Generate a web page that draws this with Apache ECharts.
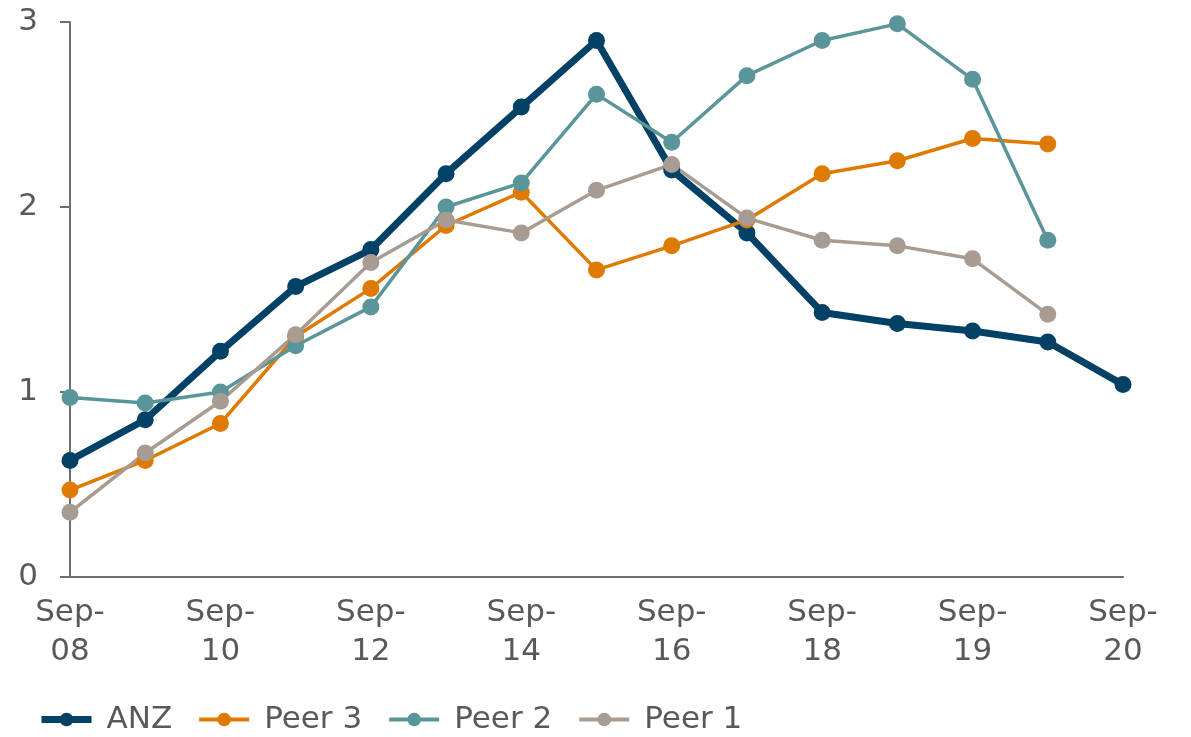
<!DOCTYPE html>
<html>
<head>
<meta charset="utf-8">
<script src="https://cdn.jsdelivr.net/npm/echarts@6/dist/echarts.min.js"></script>
<style>
  html, body { margin: 0; padding: 0; background: #fff; }
  #chart { width: 1191px; height: 737px; }
</style>
</head>
<body>
<div id="chart"></div>
<script>
var categories = ['Sep-08', 'Sep-09', 'Sep-10', 'Sep-11', 'Sep-12', 'Sep-13', 'Sep-14', 'Sep-15',
                  'Sep-16', 'Sep-17', 'Sep-18', 'Mar-19', 'Sep-19', 'Mar-20', 'Sep-20'];
var anz   = [0.63, 0.85, 1.22, 1.57, 1.77, 2.18, 2.54, 2.90, 2.20, 1.86, 1.43, 1.37, 1.33, 1.27, 1.04];
var peer3 = [0.47, 0.63, 0.83, 1.30, 1.56, 1.90, 2.08, 1.66, 1.79, 1.93, 2.18, 2.25, 2.37, 2.34, null];
var peer2 = [0.97, 0.94, 1.00, 1.25, 1.46, 2.00, 2.13, 2.61, 2.35, 2.71, 2.90, 2.99, 2.69, 1.82, null];
var peer1 = [0.35, 0.67, 0.95, 1.31, 1.70, 1.93, 1.86, 2.09, 2.23, 1.94, 1.82, 1.79, 1.72, 1.42, null];
var yTicks = [0, 1, 2, 3];

var textColor = '#595959';
var fontFamily = 'DejaVu Sans';

function lineSeries(name, data, color, width) {
    return {
        name: name,
        type: 'line',
        data: data,
        symbol: 'circle',
        symbolSize: 17,
        lineStyle: { color: color, width: width },
        itemStyle: { color: color },
        emphasis: { disabled: true }
    };
}

function legendItem(name, width) {
    return { name: name, lineStyle: { width: width } };
}

var myChart = echarts.init(document.getElementById('chart'));
var option = {
    animation: false,
    grid: { left: 70, right: 68, top: 22, bottom: 160, containLabel: false },
    legend: {
        left: 38,
        bottom: 2,
        padding: 0,
        itemWidth: 50,
        itemHeight: 17,
        itemGap: 25,
        textStyle: { color: textColor, fontSize: 31, fontFamily: fontFamily, padding: [0, 0, 0, 10] },
        data: [legendItem('ANZ', 7), legendItem('Peer 3', 4), legendItem('Peer 2', 4), legendItem('Peer 1', 4)]
    },
    xAxis: {
        type: 'category',
        data: categories,
        boundaryGap: false,
        axisLine: { lineStyle: { color: '#6e6e6e', width: 2 } },
        axisTick: { show: false },
        axisLabel: {
            interval: 1,
            color: textColor,
            fontSize: 31,
            fontFamily: fontFamily,
            lineHeight: 39,
            margin: 16,
            formatter: function (v) { return v.replace('-', '-\n'); }
        }
    },
    yAxis: {
        type: 'value',
        min: yTicks[0],
        max: yTicks[yTicks.length - 1],
        interval: 1,
        splitLine: { show: false },
        axisLine: { show: true, lineStyle: { color: '#6e6e6e', width: 2 } },
        axisTick: { show: true, length: 10, lineStyle: { color: '#6e6e6e', width: 2 } },
        axisLabel: {
            color: textColor,
            fontSize: 31,
            fontFamily: fontFamily,
            margin: 32
        }
    },
    series: [
        lineSeries('ANZ', anz, '#004165', 7),
        lineSeries('Peer 3', peer3, '#df7a00', 3.5),
        lineSeries('Peer 2', peer2, '#5a9599', 3.5),
        lineSeries('Peer 1', peer1, '#a89c92', 3.5)
    ]
};
myChart.setOption(option);
</script>
</body>
</html>
